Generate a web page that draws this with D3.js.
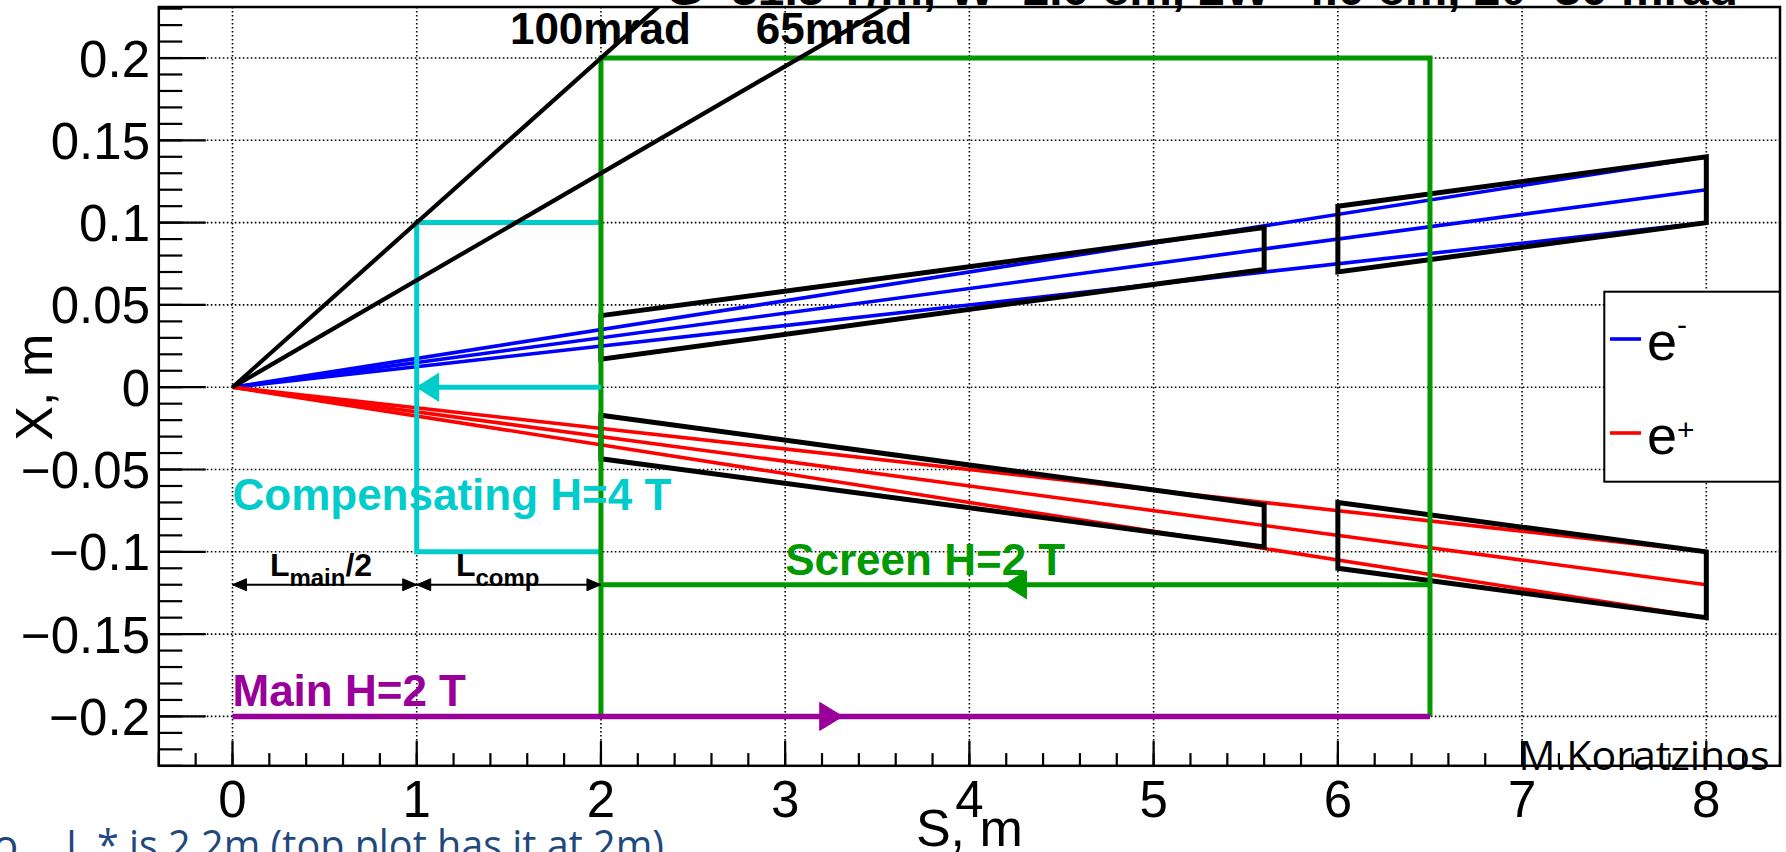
<!DOCTYPE html>
<html>
<head>
<meta charset="utf-8">
<script src="https://cdn.jsdelivr.net/npm/d3@7"></script>
<style>
  html, body { margin: 0; padding: 0; background: #fff; overflow: hidden; }
  svg { display: block; }
  text { font-family: "Liberation Sans", Arial, Helvetica, sans-serif; }
</style>
</head>
<body>
<svg id="chart" width="1786" height="852"></svg>
<script>
// ---- axis ticks -------------------------------------------------------
const sTicks = [0, 1, 2, 3, 4, 5, 6, 7, 8];
const sTickLabels = ["0", "1", "2", "3", "4", "5", "6", "7", "8"];
const xTicks = [-0.2, -0.15, -0.1, -0.05, 0, 0.05, 0.1, 0.15, 0.2];
const xTickLabels = ["\u22120.2", "\u22120.15", "\u22120.1", "\u22120.05", "0", "0.05", "0.1", "0.15", "0.2"];

// ---- beam envelopes, [S, X] in metres --------------------------------
const electronTracks = [
  [[0, 0], [8, 0.14]],
  [[0, 0], [8, 0.12]],
  [[0, 0], [8, 0.10]]
];
const positronTracks = [
  [[0, 0], [8, -0.10]],
  [[0, 0], [8, -0.12]],
  [[0, 0], [8, -0.14]]
];

// ---- vacuum-chamber apertures ---------------------------------------
const upperApertures = [
  [[2, 0.0435], [5.6, 0.097], [5.6, 0.0715], [2, 0.017]],
  [[6, 0.11], [8, 0.14], [8, 0.10], [6, 0.07]]
];
const lowerApertures = [
  [[2, -0.017], [5.6, -0.0715], [5.6, -0.097], [2, -0.0435]],
  [[6, -0.07], [8, -0.10], [8, -0.14], [6, -0.11]]
];

// ---- detector acceptance lines --------------------------------------
const crossingLines = [
  [[0, 0], [2.5, 0.25]],
  [[0, 0], [4, 0.26]]
];
const crossingLabels = ["100mrad", "65mrad"];

// ---- solenoids --------------------------------------------------------
const compensatingOutline = [[2, 0.1], [1, 0.1], [1, -0.1], [2, -0.1]];
const screenOutline = [[2, -0.2], [2, 0.2], [6.5, 0.2], [6.5, -0.2]];
const compensatingField = [[2, 0], [1, 0]];
const screenField = [[6.5, -0.12], [2, -0.12]];
const mainField = [[0, -0.2], [6.5, -0.2]];
const lengthMarks = [
  [[0, -0.12], [1, -0.12]],
  [[1, -0.12], [2, -0.12]]
];

const legendNames = ["e", "e"];
const legendCharges = ["-", "+"];

// ---- colours ----------------------------------------------------------
const C = {
  electron: "#0000ff",
  positron: "#ff0000",
  cyan: "#00cccc",
  green: "#009900",
  purple: "#990099",
  black: "#000000",
  note: "#1f497d"
};

// ---- frame and scales ------------------------------------------------
const svg = d3.select("#chart");
const frame = { left: 158.8, right: 1780, top: 7, bottom: 765.8 };
const x = d3.scaleLinear().domain([-0.4, 8.4]).range([frame.left, frame.right]);
const y = d3.scaleLinear().domain([-0.23, 0.231]).range([frame.bottom, frame.top]);
const line = d3.line().x(d => x(d[0])).y(d => y(d[1]));

svg.append("defs").append("clipPath").attr("id", "plotArea")
  .append("rect")
  .attr("x", frame.left).attr("y", frame.top)
  .attr("width", frame.right - frame.left)
  .attr("height", frame.bottom - frame.top);

// title above the frame
svg.append("text")
  .attr("x", 666).attr("y", 5)
  .attr("font-size", 44).attr("font-weight", "bold")
  .attr("textLength", 1072).attr("lengthAdjust", "spacingAndGlyphs")
  .text("G=31.5 T/m, W=2.0 cm, 2W=4.0 cm, 2\u03b8=30 mrad");

// grid
const grid = svg.append("g").attr("stroke", "#000").attr("stroke-width", 1.6)
  .attr("stroke-dasharray", "1.6 2.4");
grid.selectAll("line.v").data(sTicks).join("line").attr("class", "v")
  .attr("x1", d => x(d)).attr("x2", d => x(d))
  .attr("y1", frame.top).attr("y2", frame.bottom);
grid.selectAll("line.h").data(xTicks).join("line").attr("class", "h")
  .attr("x1", frame.left).attr("x2", frame.right)
  .attr("y1", d => y(d)).attr("y2", d => y(d));

// axes ticks
const ticks = svg.append("g").attr("stroke", "#000").attr("stroke-width", 2.2);
const yMinor = d3.range(-23, 24).map(i => i / 100);
ticks.selectAll("line.ym").data(yMinor).join("line").attr("class", "ym")
  .attr("x1", frame.left).attr("x2", frame.left + 23.5)
  .attr("y1", d => y(d)).attr("y2", d => y(d));
ticks.selectAll("line.yM").data(xTicks).join("line").attr("class", "yM")
  .attr("x1", frame.left).attr("x2", frame.left + 47)
  .attr("y1", d => y(d)).attr("y2", d => y(d));
const sMinor = d3.range(-2, 43).map(i => i * 0.2);
ticks.selectAll("line.xm").data(sMinor).join("line").attr("class", "xm")
  .attr("x1", d => x(d)).attr("x2", d => x(d))
  .attr("y1", frame.bottom).attr("y2", frame.bottom - 12.7);
ticks.selectAll("line.xM").data(sTicks).join("line").attr("class", "xM")
  .attr("x1", d => x(d)).attr("x2", d => x(d))
  .attr("y1", frame.bottom).attr("y2", frame.bottom - 25);

// tick labels
svg.append("g").selectAll("text").data(xTicks).join("text")
  .attr("x", 150).attr("y", d => y(d) + 18.5)
  .attr("text-anchor", "end").attr("font-size", 51)
  .text((d, i) => xTickLabels[i]);
svg.append("g").selectAll("text").data(sTicks).join("text")
  .attr("x", d => x(d)).attr("y", 817)
  .attr("text-anchor", "middle").attr("font-size", 51)
  .text((d, i) => sTickLabels[i]);

// axis titles
svg.append("text").attr("x", (frame.left + frame.right) / 2).attr("y", 846)
  .attr("text-anchor", "middle").attr("font-size", 52).text("S, m");
svg.append("text")
  .attr("transform", `translate(52, ${y(0)}) rotate(-90)`)
  .attr("text-anchor", "middle").attr("font-size", 52).text("X, m");

const plot = svg.append("g").attr("clip-path", "url(#plotArea)");

// beams
plot.selectAll("path.em").data(electronTracks).join("path").attr("class", "em")
  .attr("d", line).attr("fill", "none").attr("stroke", C.electron).attr("stroke-width", 3.6);
plot.selectAll("path.ep").data(positronTracks).join("path").attr("class", "ep")
  .attr("d", line).attr("fill", "none").attr("stroke", C.positron).attr("stroke-width", 3.6);

// apertures
plot.selectAll("path.ap").data(upperApertures.concat(lowerApertures)).join("path").attr("class", "ap")
  .attr("d", d => line(d) + "Z").attr("fill", "none")
  .attr("stroke", C.black).attr("stroke-width", 5).attr("stroke-linejoin", "miter");

// solenoid outlines
plot.append("path").attr("d", line(compensatingOutline)).attr("fill", "none")
  .attr("stroke", C.cyan).attr("stroke-width", 5);
plot.append("path").attr("d", line(screenOutline)).attr("fill", "none")
  .attr("stroke", C.green).attr("stroke-width", 5);

// arrows: head placed at the end point or centred on the segment
function arrowHead(g, p0, p1, where, len, half, colour) {
  const x0 = x(p0[0]), y0 = y(p0[1]), x1 = x(p1[0]), y1 = y(p1[1]);
  const L = Math.hypot(x1 - x0, y1 - y0);
  const ux = (x1 - x0) / L, uy = (y1 - y0) / L;
  let tx, ty;
  if (where === "end") { tx = x1; ty = y1; }
  else if (where === "start") { tx = x0; ty = y0; }
  else { tx = (x0 + x1) / 2 + ux * len / 2; ty = (y0 + y1) / 2 + uy * len / 2; }
  const dir = where === "start" ? -1 : 1;
  const bx = tx - dir * ux * len, by = ty - dir * uy * len;
  const pts = [[tx, ty], [bx - uy * half, by + ux * half], [bx + uy * half, by - ux * half]];
  g.append("polygon").attr("points", pts.map(p => p.join(",")).join(" "))
    .attr("fill", colour).attr("stroke", colour).attr("stroke-width", 1);
}
function arrow(data, colour, width, heads, len, half) {
  const g = plot.append("g");
  g.append("path").attr("d", line(data)).attr("fill", "none")
    .attr("stroke", colour).attr("stroke-width", width);
  heads.forEach(h => arrowHead(g, data[0], data[1], h, len, half, colour));
}
arrow(compensatingField, C.cyan, 5, ["end"], 22, 14);
arrow(screenField, C.green, 5, ["mid"], 22, 14);
arrow(mainField, C.purple, 5.5, ["mid"], 23, 14);
lengthMarks.forEach(m => arrow(m, C.black, 2.2, ["start", "end"], 14, 6));

// acceptance lines
plot.selectAll("path.cr").data(crossingLines).join("path").attr("class", "cr")
  .attr("d", line).attr("fill", "none").attr("stroke", C.black).attr("stroke-width", 4.2);

// annotations
const bold = (t, sx, sy, colour) => svg.append("text")
  .attr("x", x(sx)).attr("y", y(sy)).attr("font-size", 44).attr("font-weight", "bold")
  .attr("fill", colour).text(t);
bold(crossingLabels[0], 1.506, 0.2085, C.black);
bold(crossingLabels[1], 2.84, 0.2085, C.black);
bold("Compensating H=4 T", 0, -0.0745, C.cyan);
bold("Screen H=2 T", 3.0, -0.114, C.green);
bold("Main H=2 T", 0, -0.1937, C.purple);

function lengthLabel(sx, sub, tail) {
  const t = svg.append("text").attr("x", x(sx)).attr("y", y(-0.1144))
    .attr("font-weight", "bold").attr("font-size", 32);
  t.append("tspan").text("L");
  t.append("tspan").attr("font-size", 24).attr("dy", 10).text(sub);
  if (tail) t.append("tspan").attr("dy", -10).text(tail);
}
lengthLabel(0.203, "main", "/2");
lengthLabel(1.213, "comp", null);

// legend
const lg = svg.append("g");
lg.append("rect").attr("x", 1604.3).attr("y", 291.7)
  .attr("width", frame.right - 1604.3).attr("height", 190)
  .attr("fill", "#fff").attr("stroke", "#000").attr("stroke-width", 2);
const legendRows = [
  { colour: C.electron, ly: 339, ty: 360, supDy: -25 },
  { colour: C.positron, ly: 433, ty: 454, supDy: -14 }
];
legendRows.forEach((r, i) => {
  lg.append("line").attr("x1", 1610).attr("x2", 1641).attr("y1", r.ly).attr("y2", r.ly)
    .attr("stroke", r.colour).attr("stroke-width", 3.6);
  const t = lg.append("text").attr("x", 1647).attr("y", r.ty).attr("font-size", 54);
  t.append("tspan").text(legendNames[i]);
  t.append("tspan").attr("font-size", 30).attr("dy", r.supDy).text(legendCharges[i]);
});

// frame on top
svg.append("rect").attr("x", frame.left).attr("y", frame.top)
  .attr("width", frame.right - frame.left).attr("height", frame.bottom - frame.top)
  .attr("fill", "none").attr("stroke", "#000").attr("stroke-width", 2.5);

// author tag and slide note
svg.append("text").attr("x", 1518.6).attr("y", 770)
  .style("font-family", "'Open Sans', sans-serif").attr("font-size", 40)
  .attr("textLength", 251).attr("lengthAdjust", "spacingAndGlyphs")
  .text("M.Koratzinos");
svg.append("text").attr("x", -7).attr("y", 860)
  .style("font-family", "'Open Sans', sans-serif").attr("font-size", 42)
  .attr("fill", C.note).text("o");
svg.append("text").attr("x", 66).attr("y", 860)
  .style("font-family", "'Open Sans', sans-serif").attr("font-size", 42)
  .attr("fill", C.note).attr("textLength", 598).attr("lengthAdjust", "spacingAndGlyphs")
  .text("L * is 2.2m (top plot has it at 2m)");
</script>
</body>
</html>
